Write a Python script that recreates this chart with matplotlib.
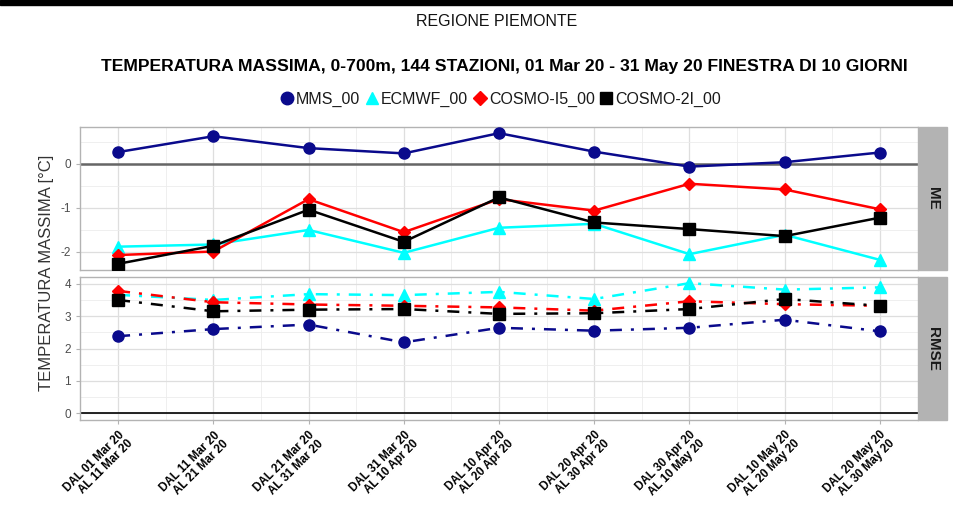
import matplotlib
matplotlib.use('Agg')
import matplotlib.pyplot as plt
from matplotlib.lines import Line2D
from matplotlib.patches import Rectangle

plt.rcParams['font.family'] = ['Liberation Sans', 'DejaVu Sans']
plt.rcParams['axes.unicode_minus'] = False

periods = ['DAL 01 Mar 20\nAL 11 Mar 20', 'DAL 11 Mar 20\nAL 21 Mar 20',
           'DAL 21 Mar 20\nAL 31 Mar 20', 'DAL 31 Mar 20\nAL 10 Apr 20',
           'DAL 10 Apr 20\nAL 20 Apr 20', 'DAL 20 Apr 20\nAL 30 Apr 20',
           'DAL 30 Apr 20\nAL 10 May 20', 'DAL 10 May 20\nAL 20 May 20',
           'DAL 20 May 20\nAL 30 May 20']

models = ['MMS_00', 'ECMWF_00', 'COSMO-I5_00', 'COSMO-2I_00']

# mean error
me_mms = [0.27, 0.63, 0.36, 0.24, 0.70, 0.28, -0.06, 0.04, 0.26]
me_ecmwf = [-1.88, -1.83, -1.50, -2.02, -1.45, -1.36, -2.05, -1.61, -2.18]
me_i5 = [-2.07, -1.99, -0.80, -1.55, -0.80, -1.06, -0.45, -0.58, -1.03]
me_2i = [-2.27, -1.86, -1.04, -1.77, -0.76, -1.33, -1.48, -1.64, -1.22]

# root mean square error
rmse_mms = [2.38, 2.60, 2.74, 2.19, 2.64, 2.55, 2.64, 2.89, 2.53]
rmse_ecmwf = [3.66, 3.50, 3.68, 3.65, 3.75, 3.53, 4.02, 3.82, 3.89]
rmse_i5 = [3.78, 3.43, 3.36, 3.32, 3.27, 3.17, 3.46, 3.37, 3.32]
rmse_2i = [3.50, 3.15, 3.20, 3.22, 3.07, 3.09, 3.22, 3.53, 3.32]

colors = ['#0a0a8c', '#00ffff', '#ff0000', '#000000']
markers = ['o', '^', 'D', 's']
msizes = [8, 8, 6, 8]

x = list(range(1, len(periods) + 1))

fig = plt.figure(figsize=(9.54, 5.2), dpi=100)

# black band on top
fig.patches.append(Rectangle((0, 1 - 5 / 520), 1, 5 / 520, transform=fig.transFigure,
                             color='black', zorder=0))

fig.text(0.521, 1 - 21 / 520, 'REGIONE PIEMONTE', ha='center', va='center',
         fontsize=11.5, color='#111111')
fig.text(0.529, 1 - 67 / 520,
         'TEMPERATURA MASSIMA, 0-700m, 144 STAZIONI, 01 Mar 20 - 31 May 20 FINESTRA DI 10 GIORNI',
         ha='center', va='center', fontsize=12.6, fontweight='bold', color='black')

left, width = 80 / 954, 838 / 954
ax_me = fig.add_axes([left, 1 - 270 / 520, width, 143 / 520])
ax_rmse = fig.add_axes([left, 1 - 420 / 520, width, 143 / 520])

me_data = [me_mms, me_ecmwf, me_i5, me_2i]
rmse_data = [rmse_mms, rmse_ecmwf, rmse_i5, rmse_2i]

for ax in (ax_me, ax_rmse):
    ax.set_xticks(x)
    ax.set_xticks([v + 0.5 for v in range(0, 10)], minor=True)
    ax.set_xlim(0.6, 9.4)
    ax.grid(True, which='major', color='#dedede', lw=0.9, zorder=0)
    ax.grid(True, which='minor', color='#ececec', lw=0.6, zorder=0)
    for s in ax.spines.values():
        s.set_color('#b3b3b3')
        s.set_linewidth(1.0)
    ax.tick_params(which='both', length=0)
    ax.tick_params(axis='y', labelsize=8.5, labelcolor='#4d4d4d', length=3,
                   width=0.8, color='#b3b3b3')
    ax.set_axisbelow(True)

ax_me.set_yticks([-2, -1, 0])
ax_me.set_yticks([-2.5, -1.5, -0.5, 0.5], minor=True)
ax_me.set_ylim(-2.41, 0.84)
ax_me.axhline(0, color='#666666', lw=1.8, zorder=1)
ax_me.tick_params(axis='x', labelbottom=False)

ax_rmse.set_yticks([0, 1, 2, 3, 4])
ax_rmse.set_yticks([0.5, 1.5, 2.5, 3.5], minor=True)
ax_rmse.set_ylim(-0.21, 4.21)
ax_rmse.axhline(0, color='black', lw=1.2, zorder=1)
ax_rmse.tick_params(axis='x', length=3, width=0.8, color='#b3b3b3')
ax_rmse.set_xticklabels(periods, rotation=45, ha='right', va='top',
                        rotation_mode='anchor', fontsize=8.4, fontweight='bold',
                        multialignment='right', linespacing=1.05)

for i in range(4):
    ax_me.plot(x, me_data[i], color=colors[i], lw=1.8, marker=markers[i],
               ms=msizes[i], zorder=3 + i)
    ax_rmse.plot(x, rmse_data[i], color=colors[i], lw=1.8, marker=markers[i],
                 ms=msizes[i], linestyle=(0, (4.8, 3.6, 1.2, 3.6)), zorder=3 + i)

# facet strips on the right
for ax, lab in ((ax_me, 'ME'), (ax_rmse, 'RMSE')):
    pos = ax.get_position()
    fig.patches.append(Rectangle((pos.x1 + 1 / 954, pos.y0), 28 / 954, pos.height,
                                 transform=fig.transFigure, color='#b3b3b3', zorder=0))
    fig.text(pos.x1 + 15 / 954, pos.y0 + pos.height / 2, lab, rotation=270,
             ha='center', va='center', fontsize=11, fontweight='bold', color='#1a1a1a')

fig.text(47 / 954, 1 - 273 / 520, 'TEMPERATURA MASSIMA [°C]', rotation=90,
         ha='center', va='center', fontsize=12, color='#333333')

handles = [Line2D([], [], color=colors[i], marker=markers[i], ms=msizes[i] + 1, lw=0)
           for i in range(4)]
fig.legend(handles, models, loc='center', bbox_to_anchor=(0.525, 1 - 99 / 520),
           ncol=4, frameon=False, fontsize=11.5, handlelength=0.8, handletextpad=0.2,
           columnspacing=0.3, labelcolor='#1a1a1a')

fig.savefig('out.png', dpi=100)
